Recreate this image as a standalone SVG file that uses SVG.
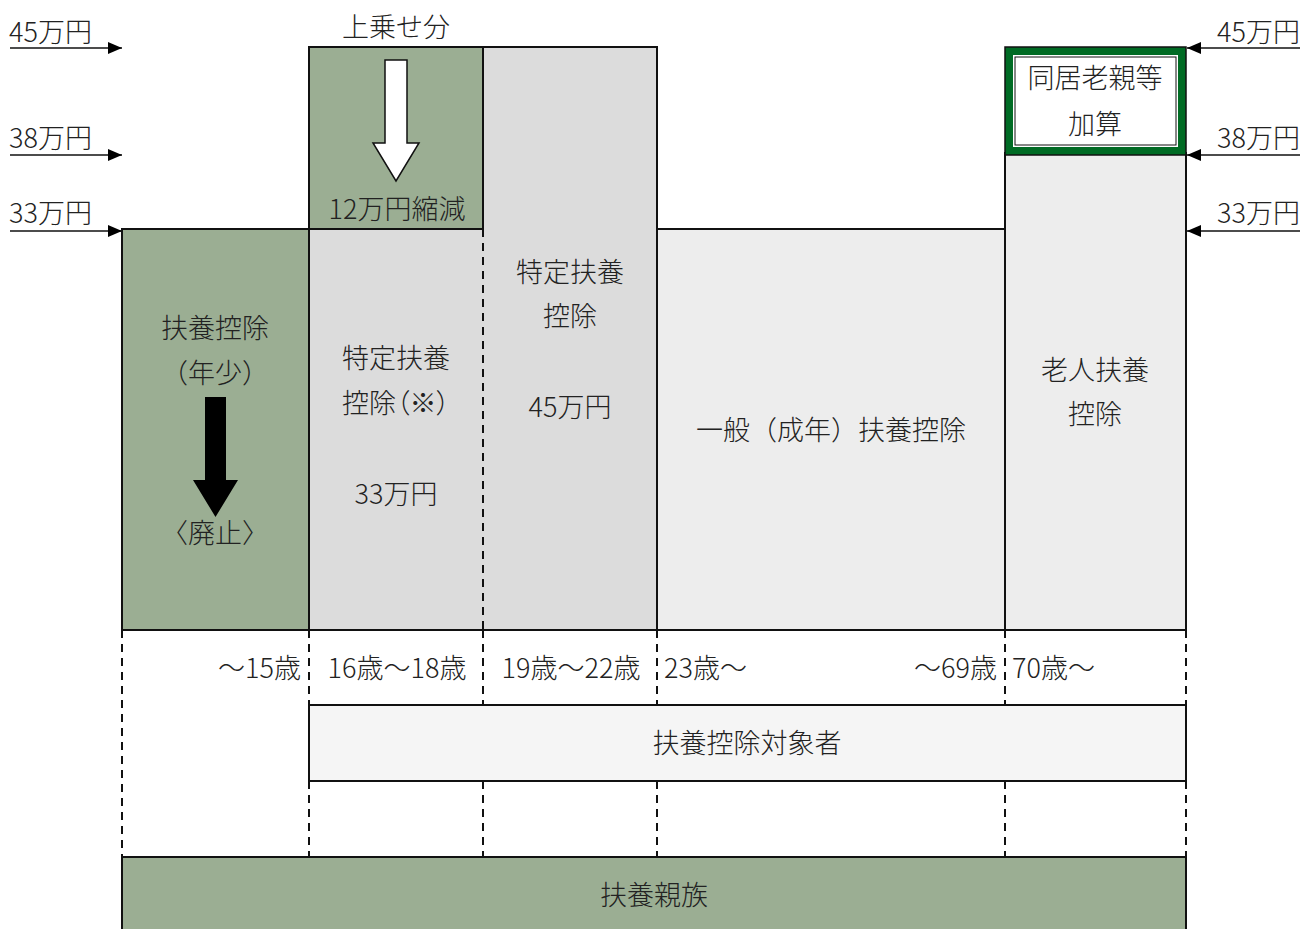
<svg xmlns="http://www.w3.org/2000/svg" width="1312" height="929" viewBox="0 0 1312 929">
<style>
text{font-family:"Noto Sans CJK JP","Noto Sans",sans-serif;font-size:27px;font-weight:300;fill:#222;dominant-baseline:central;text-anchor:middle}
.s{text-anchor:start}.e{text-anchor:end}
.p{font-feature-settings:"palt"}
.box{stroke:#111;stroke-width:2}
.g{fill:#9BAE93}.l1{fill:#DCDCDC}.l2{fill:#EDEDED}.l3{fill:#F5F5F5}
.d{stroke:#111;stroke-width:2;stroke-dasharray:8,6;fill:none}
.ln{stroke:#111;stroke-width:1.5;fill:none}
</style>
<defs>
<marker id="ah" viewBox="0 0 14 12" refX="14" refY="6" markerWidth="14" markerHeight="12" markerUnits="userSpaceOnUse" orient="auto">
<path d="M0,0 L14,6 L0,12 Z" fill="#000"/>
</marker>
</defs>

<g id="connectors">
<line class="ln" x1="10" y1="48" x2="122" y2="48" marker-end="url(#ah)"/>
<line class="ln" x1="10" y1="155" x2="122" y2="155" marker-end="url(#ah)"/>
<line class="ln" x1="10" y1="231" x2="122" y2="231" marker-end="url(#ah)"/>
<line class="ln" x1="1300" y1="48" x2="1187" y2="48" marker-end="url(#ah)"/>
<line class="ln" x1="1300" y1="155" x2="1187" y2="155" marker-end="url(#ah)"/>
<line class="ln" x1="1300" y1="231" x2="1187" y2="231" marker-end="url(#ah)"/>
<line class="d" x1="122" y1="630" x2="122" y2="857"/>
<line class="d" x1="309" y1="630" x2="309" y2="705"/>
<line class="d" x1="483" y1="630" x2="483" y2="705"/>
<line class="d" x1="657" y1="630" x2="657" y2="705"/>
<line class="d" x1="1005" y1="630" x2="1005" y2="705"/>
<line class="d" x1="1186" y1="630" x2="1186" y2="705"/>
<line class="d" x1="309" y1="781" x2="309" y2="857"/>
<line class="d" x1="483" y1="781" x2="483" y2="857"/>
<line class="d" x1="657" y1="781" x2="657" y2="857"/>
<line class="d" x1="1005" y1="781" x2="1005" y2="857"/>
<line class="d" x1="1186" y1="781" x2="1186" y2="857"/>
</g>

<g id="labels-left">
<text class="s" x="9" y="30">45万円</text>
<text class="s" x="9" y="136">38万円</text>
<text class="s" x="9" y="211">33万円</text>
</g>
<g id="labels-right">
<text class="e" x="1300" y="30">45万円</text>
<text class="e" x="1300" y="136">38万円</text>
<text class="e" x="1300" y="211">33万円</text>
</g>

<g id="nenshou">
<rect class="box g" x="122" y="229" width="187" height="401"/>
<text x="215" y="326">扶養控除</text>
<text x="215" y="371">（年少）</text>
<path d="M205,397 H226 V480 H238 L215.5,517 L193,480 H205 Z" fill="#000"/>
<text x="215" y="531">〈廃止〉</text>
</g>

<g id="uwanose">
<text x="396" y="25">上乗せ分</text>
<rect class="box g" x="309" y="47" width="174" height="182"/>
<path d="M385,60 H407 V143 H419 L396,181 L373,143 H385 Z" fill="#fff" stroke="#111" stroke-width="1.5"/>
<text x="397" y="207">12万円縮減</text>
</g>

<g id="tokutei16">
<rect class="l1" x="309" y="229" width="174" height="401"/>
<path class="box" d="M483,229 H309 V630 H483" fill="none"/>
<text x="396" y="356">特定扶養</text>
<text class="p" x="396" y="401">控除（※）</text>
<text x="396" y="492">33万円</text>
</g>

<g id="tokutei19">
<rect class="l1" x="483" y="47" width="174" height="583"/>
<path class="box" d="M483,229 V47 H657 V630 H483" fill="none"/>
<line x1="483" y1="229" x2="483" y2="630" stroke="#111" stroke-width="2" stroke-dasharray="8,6"/>
<text x="570" y="270">特定扶養</text>
<text x="570" y="314">控除</text>
<text x="570" y="405">45万円</text>
</g>

<g id="ippan">
<rect class="box l2" x="657" y="229" width="348" height="401"/>
<text x="831" y="428">一般（成年）扶養控除</text>
</g>

<g id="roujin">
<rect class="box l2" x="1005" y="153" width="181" height="477"/>
<text x="1095" y="368">老人扶養</text>
<text x="1095" y="412">控除</text>
</g>

<g id="doukyo">
<rect x="1009" y="51" width="173" height="100" fill="#fff" stroke="#006B24" stroke-width="8"/>
<rect x="1005" y="47" width="181" height="108" fill="none" stroke="#111" stroke-width="1.5"/>
<rect x="1015" y="57" width="161" height="88" fill="none" stroke="#111" stroke-width="1"/>
<text x="1095" y="76">同居老親等</text>
<text x="1095" y="122">加算</text>
</g>

<g id="ages">
<text class="e" x="301" y="666">～15歳</text>
<text x="397" y="666">16歳～18歳</text>
<text x="571" y="666">19歳～22歳</text>
<text class="s" x="664" y="666">23歳～</text>
<text class="e" x="997" y="666">～69歳</text>
<text class="s" x="1012" y="666">70歳～</text>
</g>

<g id="taishousha">
<rect class="box l3" x="309" y="705" width="877" height="76"/>
<text x="747" y="741">扶養控除対象者</text>
</g>

<g id="shinzoku">
<rect class="box g" x="122" y="857" width="1064" height="80"/>
<text x="654" y="893">扶養親族</text>
</g>
</svg>
